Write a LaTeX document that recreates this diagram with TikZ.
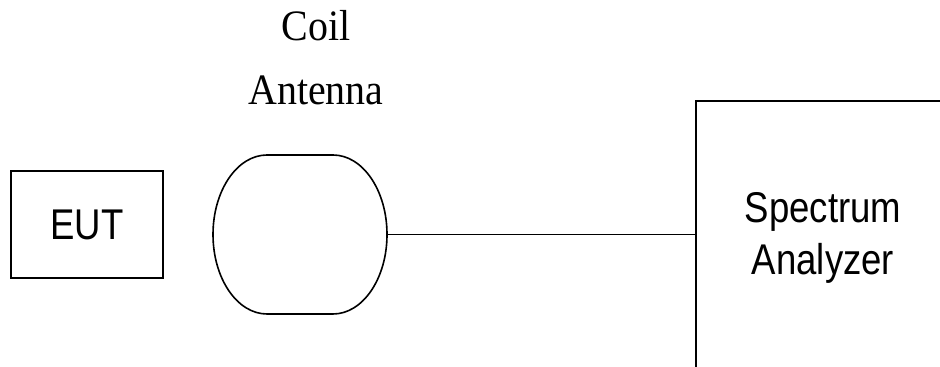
\documentclass[tikz,border=0pt]{standalone}
\usepackage{fontspec}
\setmainfont{Liberation Serif}[FakeStretch=0.92]
\setsansfont{Liberation Sans}[FakeStretch=0.85]
\usepackage{tikz}

\begin{document}
\begin{tikzpicture}[x=0.5pt, y=-0.5pt, line width=0.8pt,
				   box/.style={rectangle, draw=black, minimum width=76pt, minimum height=53.5pt, font=\sffamily\fontsize{21.5}{26}\selectfont},
				   caption/.style={align=center, inner sep=0pt}]
\useasboundingbox (0,0) rectangle (940,367);
\node[box] (eut) at (87,224.5) {EUT};
\node[minimum width=87pt, minimum height=79.5pt, inner sep=0pt] (coil) at (300,234.5) {};
\draw (267,155) arc[start angle=270, end angle=90, x radius=54, y radius=79.5]
	-- (333,314) arc[start angle=90, end angle=-90, x radius=54, y radius=79.5] -- cycle;
\node[caption, font=\fontsize{21.7}{32}\selectfont] (coil label) at (316,58) {Coil\\Antenna};
\draw (940,101) -- (696,101) -- (696,367);
\coordinate (sa in) at (696,234.5);
\node[caption, font=\sffamily\fontsize{21.5}{26}\selectfont] (sa) at (823,238) {Spectrum\\Analyzer};

\draw (coil) -- (sa in);
\end{tikzpicture}
\end{document}
